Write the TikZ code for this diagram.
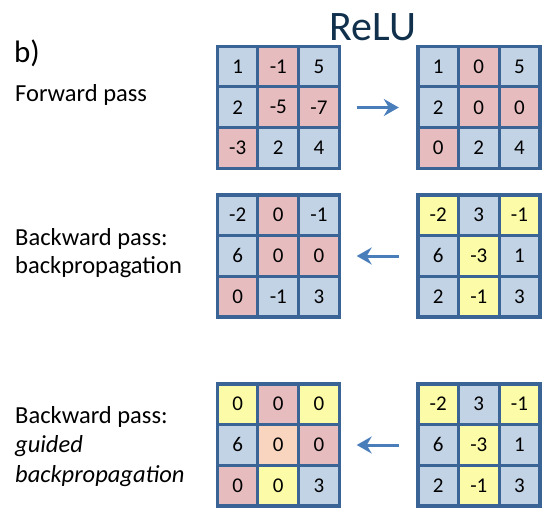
\documentclass[tikz,border=0pt]{standalone}
\usepackage{fontspec}
\setmainfont{Carlito}
\usetikzlibrary{arrows.meta}

\definecolor{gridblue}{HTML}{3B6496}
\definecolor{cellB}{HTML}{C3D3E6}
\definecolor{cellR}{HTML}{E6BCBE}
\definecolor{cellY}{HTML}{FCFCA8}
\definecolor{cellO}{HTML}{F9D5BF}
\definecolor{arrowblue}{HTML}{4A7EBB}
\definecolor{titlenavy}{HTML}{10304C}

\tikzset{
  gridframe/.style={rectangle, minimum width=122pt, minimum height=122pt, inner sep=0pt},
  cell/.style={rectangle, draw=gridblue, line width=3pt, minimum size=40.67pt, inner sep=0pt,
    font=\fontsize{21}{21}\selectfont},
  framepen/.style={draw=gridblue, line width=3.5pt},
  relarrow/.style={-{Stealth[length=15pt,width=17pt,inset=5pt]}, arrowblue, line width=3pt},
  passlabel/.style={anchor=base west, align=left, inner sep=0pt, font=\fontsize{24.5}{29}\selectfont}
}

% one 3x3 grid: name, centre, values/colours row by row
\newcommand{\relugrid}[3]{%
  \node[gridframe] (#1) at (#2) {};
  \foreach \val/\col [count=\k from 0] in {#3} {
    \pgfmathtruncatemacro{\row}{\k/3}
    \pgfmathtruncatemacro{\clm}{mod(\k,3)}
    \node[cell, fill=\col] (#1-\row-\clm) at ([shift={(\clm*40.67+20.33,\row*40.67+20.33)}]#1.north west) {\val};
  }
  \draw[framepen] (#1.north west) rectangle (#1.south east);
}

\begin{document}
\begin{tikzpicture}[x=1pt, y=-1pt]
  \useasboundingbox (0,0) rectangle (557,514);

  \node[anchor=base, inner sep=0pt, text=titlenavy, font=\fontsize{42}{42}\selectfont] (relu) at (373,40) {ReLU};
  \node[anchor=base west, inner sep=0pt, font=\fontsize{31}{31}\selectfont] (part) at (14,62) {b)};

  % forward pass
  \node[passlabel] (fwdlabel) at (15,101) {Forward pass};
  \relugrid{fwdin}{278.5,107.5}{1/cellB,-1/cellR,5/cellB,2/cellB,-5/cellR,-7/cellR,-3/cellR,2/cellB,4/cellB}
  \relugrid{fwdout}{479,107.5}{1/cellB,0/cellR,5/cellB,2/cellB,0/cellR,0/cellR,0/cellR,2/cellB,4/cellB}
  \draw[relarrow] ([xshift=17pt]fwdin.east) -- ([xshift=-19pt]fwdout.west);

  % backward pass (base = last line)
  \node[passlabel, font=\fontsize{24.5}{28}\selectfont] (bplabel) at (15,273) {Backward pass:\\backpropagation};
  \relugrid{bpres}{278.5,256}{-2/cellB,0/cellR,-1/cellB,6/cellB,0/cellR,0/cellR,0/cellR,-1/cellB,3/cellB}
  \relugrid{bpgrad}{479,256}{-2/cellY,3/cellB,-1/cellY,6/cellB,-3/cellY,1/cellB,2/cellB,-1/cellY,3/cellB}
  \draw[relarrow] ([xshift=-19pt]bpgrad.west) -- ([xshift=17pt]bpres.east);

  % guided backpropagation
  \node[passlabel, font=\fontsize{24.5}{29.5}\selectfont] (gblabel) at (15,482) {Backward pass:\\\textit{guided}\\\textit{backpropagation}};
  \relugrid{gbres}{278.5,445}{0/cellY,0/cellR,0/cellY,6/cellB,0/cellO,0/cellR,0/cellR,0/cellY,3/cellB}
  \relugrid{gbgrad}{479,445}{-2/cellY,3/cellB,-1/cellY,6/cellB,-3/cellY,1/cellB,2/cellB,-1/cellY,3/cellB}
  \draw[relarrow] ([xshift=-19pt]gbgrad.west) -- ([xshift=17pt]gbres.east);
\end{tikzpicture}
\end{document}
